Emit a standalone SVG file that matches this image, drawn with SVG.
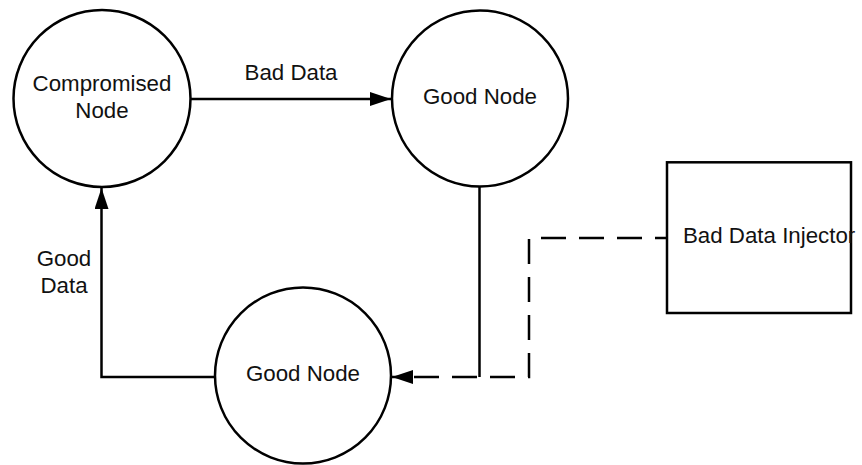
<svg xmlns="http://www.w3.org/2000/svg" width="862" height="465" viewBox="0 0 862 465">
  <style>
    .node { fill: #fff; stroke: #000; stroke-width: 2.5; }
    .label { font-family: "Liberation Sans", Arial, sans-serif; font-size: 22.3px; fill: #111; text-anchor: middle; }
    .edge { fill: none; stroke: #000; stroke-width: 2.5; }
    .dashed { stroke-dasharray: 25 13; stroke-dashoffset: 13; }
  </style>
  <defs>
    <marker id="arrow" viewBox="0 0 21 14" refX="21" refY="7" markerWidth="21" markerHeight="14" markerUnits="userSpaceOnUse" orient="auto">
      <path d="M0,0 L21,7 L0,14 Z" fill="#000"/>
    </marker>
  </defs>
  <rect width="862" height="465" fill="#fff"/>

  <!-- connectors -->
  <g id="connectors">
    <line class="edge" x1="191" y1="99" x2="391" y2="99" marker-end="url(#arrow)"/>
    <polyline class="edge" points="214,377 101.5,377 101.5,188" marker-end="url(#arrow)"/>
    <line class="edge" x1="479.5" y1="187" x2="479.5" y2="377"/>
    <polyline class="edge dashed" points="667,238 529,238 529,377 392,377" marker-end="url(#arrow)"/>
    <text class="label" x="291" y="79.5">Bad Data</text>
    <text class="label" x="64" y="266.3">Good</text>
    <text class="label" x="64" y="293">Data</text>
  </g>

  <g id="compromised-node">
    <circle class="node" cx="102" cy="98.5" r="88.5"/>
    <text class="label" x="102" y="90.5">Compromised</text>
    <text class="label" x="102" y="117.5">Node</text>
  </g>

  <g id="good-node-top">
    <circle class="node" cx="480" cy="98.5" r="88"/>
    <text class="label" x="480" y="104">Good Node</text>
  </g>

  <g id="good-node-bottom">
    <circle class="node" cx="303" cy="375.5" r="88"/>
    <text class="label" x="303" y="380.7">Good Node</text>
  </g>

  <g id="bad-data-injector">
    <rect class="node" x="667" y="162.3" width="184" height="150.7"/>
    <text class="label" x="683" y="242.5" style="text-anchor: start">Bad Data Injector</text>
  </g>
</svg>
